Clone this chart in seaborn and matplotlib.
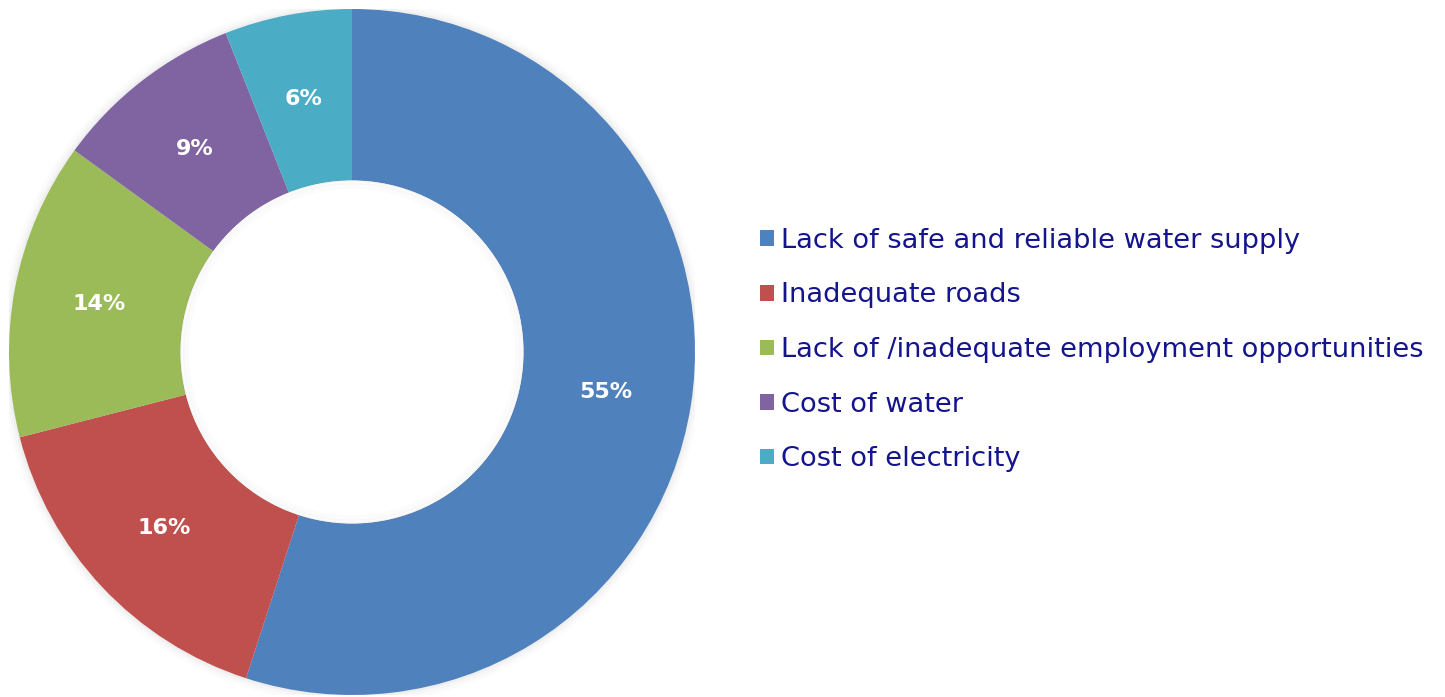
import seaborn as sns
import matplotlib.pyplot as plt
from matplotlib.patches import Patch, Circle

categories = ["Lack of safe and reliable water supply", "Inadequate roads",
              "Lack of /inadequate employment opportunities", "Cost of water",
              "Cost of electricity"]
values = [55, 16, 14, 9, 6]
colors = ["#4F81BD", "#C0504D", "#9BBB59", "#8064A2", "#4BACC6"]

sns.set_theme(style="white")
plt.rcParams["font.family"] = ["DejaVu Sans"]
pal = sns.color_palette(colors)

fig = plt.figure(figsize=(14.45, 6.97), dpi=100)
r_px = 343
ax = fig.add_axes([(352 - r_px) / 1445, (697 - 352 - r_px) / 697, 2 * r_px / 1445, 2 * r_px / 697])

# faint glow around the ring
for k, a in [(1.025, 0.03), (1.015, 0.04), (1.007, 0.05)]:
    ax.add_patch(Circle((0, 0), k, color="gray", alpha=a, lw=0, zorder=0))

wedges, _, autotexts = ax.pie(values, colors=pal, startangle=90, counterclock=False,
                              radius=1, autopct="%d%%", pctdistance=0.75,
                              wedgeprops=dict(width=0.5, linewidth=0),
                              textprops=dict(color="white", fontsize=16, fontweight="bold"))
ax.add_patch(Circle((0, 0), 0.5, color="white", lw=0, zorder=3))
for k, a in [(0.5, 0.07), (0.49, 0.05), (0.48, 0.03)]:
    ax.add_patch(Circle((0, 0), k, fill=False, ec="gray", alpha=a, lw=2, zorder=4))
ax.set_xlim(-1, 1)
ax.set_ylim(-1, 1)
ax.set_aspect("equal")
ax.axis("off")

handles = [Patch(facecolor=c, edgecolor="none") for c in pal]
leg = fig.legend(handles, categories, loc="center left", bbox_to_anchor=(760 / 1445, 1 - 350 / 697),
                 frameon=False, fontsize=19.6, handlelength=0.5, handleheight=0.5,
                 handletextpad=0.28, labelspacing=1.05, borderpad=0, borderaxespad=0)
for t in leg.get_texts():
    t.set_color("#14148C")

fig.savefig("out.png", dpi=100, facecolor="white")
